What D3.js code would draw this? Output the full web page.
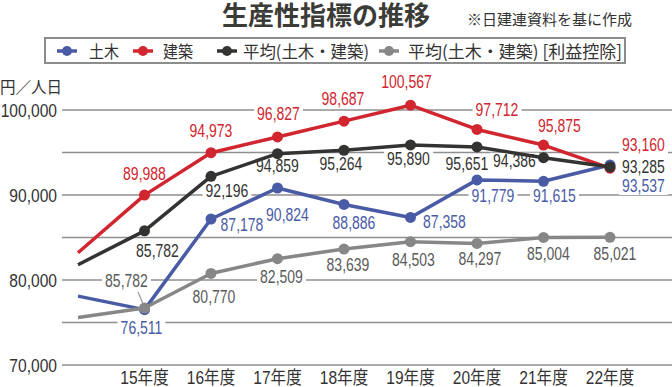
<!DOCTYPE html>
<html>
<head>
<meta charset="utf-8">
<script src="https://cdn.jsdelivr.net/npm/d3@7"></script>
<style>
  body { margin: 0; background: #fff; }
  svg { display: block; }
</style>
</head>
<body>
<div id="chart"></div>
<script>
// data (14年度 is only the start of each line)
var years = ["14年度", "15年度", "16年度", "17年度", "18年度", "19年度", "20年度", "21年度", "22年度"];
var yTicks = [70000, 80000, 90000, 100000];
var gridValues = [70000, 75000, 80000, 85000, 90000, 95000, 100000];

var doboku = [78100, 76511, 87178, 90824, 88886, 87358, 91779, 91615, 93537];
var kenchiku = [83200, 89988, 94973, 96827, 98687, 100567, 97712, 95875, 93160];
var heikin = [81800, 85782, 92196, 94859, 95264, 95890, 95651, 94386, 93285];
var heikinRieki = [75600, 76700, 80770, 82509, 83639, 84503, 84297, 85004, 85021];
// the printed label for 15年度 of the last series differs from where its point sits
var heikinRiekiLabels = ["", "85,782", "80,770", "82,509", "83,639", "84,503", "84,297", "85,004", "85,021"];

var seriesNames = ["土木", "建築", "平均(土木・建築)", "平均(土木・建築) [利益控除]"];

var fmt = d3.format(",");
function labelsOf(vals) { return vals.map(function(v, i) { return i == 0 ? "" : fmt(v); }); }

var series = [
  { name: seriesNames[0], values: doboku, labels: labelsOf(doboku), line: "#4a5ba6", text: "#4a5ba6",
    off: [null, [-3,24], [31,12], [10,33], [10,25], [34,11], [16,22], [11,21], [12,27,"start"]] },
  { name: seriesNames[1], values: kenchiku, labels: labelsOf(kenchiku), line: "#d1252f", text: "#d1252f",
    off: [null, [0,-15], [0,-16], [1,-17], [-1,-16], [-4,-17], [20,-13], [16,-13], [12,-17,"start"]] },
  { name: seriesNames[2], values: heikin, labels: labelsOf(heikin), line: "#333331", text: "#333331",
    off: [null, [13,26], [16,21], [0,18], [-3,20], [-2,20], [-10,23], [-29,9], [12,6,"start"]] },
  { name: seriesNames[3], values: heikinRieki, labels: heikinRiekiLabels, line: "#878787", text: "#5a5a5a",
    off: [null, [-18,-21], [3,30], [4,24], [4,22], [3,24], [3,22], [5,23], [5,23]] }
];

var width = 672, height = 387;
var numFont = "'Liberation Sans', Arial, 'Noto Sans CJK JP', sans-serif";
var jpFont = "'Noto Sans CJK JP', sans-serif";
var squeeze = 0.8;

// narrow the glyphs like the condensed face of the original
function condense(sel, k) {
  sel.each(function() {
    var w = this.getComputedTextLength();
    d3.select(this)
        .attr("textLength", w * k)
        .attr("lengthAdjust", "spacingAndGlyphs");
  });
}

var svg = d3.select("#chart").append("svg")
    .attr("width", width)
    .attr("height", height);

var x = d3.scalePoint().domain(years).range([78, 610]);
var y = d3.scaleLinear().domain([70000, 100000]).range([365, 110]);

// title + note
svg.append("text")
    .attr("x", 222).attr("y", 25)
    .attr("font-family", jpFont)
    .attr("font-weight", "bold")
    .attr("font-size", 26)
    .attr("fill", "#3b3b38")
    .attr("textLength", 208)
    .attr("lengthAdjust", "spacingAndGlyphs")
    .text("生産性指標の推移");
svg.append("text")
    .attr("x", 467).attr("y", 25)
    .attr("font-family", jpFont)
    .attr("font-size", 15)
    .attr("fill", "#333")
    .attr("textLength", 165)
    .attr("lengthAdjust", "spacingAndGlyphs")
    .text("※日建連資料を基に作成");

// legend
var lg = svg.append("g");
lg.append("rect")
    .attr("x", 45).attr("y", 38)
    .attr("width", 580).attr("height", 25)
    .attr("fill", "#fff")
    .attr("stroke", "#8c8c8c")
    .attr("stroke-width", 2);
var legendItems = [
  { s: series[0], mx: 67, tx: 89, tw: 30 },
  { s: series[1], mx: 143, tx: 163, tw: 30 },
  { s: series[2], mx: 227, tx: 243, tw: 126 },
  { s: series[3], mx: 389, tx: 408, tw: 214 }
];
legendItems.forEach(function(it) {
  lg.append("line")
      .attr("x1", it.mx - 10).attr("x2", it.mx + 10)
      .attr("y1", 51).attr("y2", 51)
      .attr("stroke", it.s.line).attr("stroke-width", 3.5);
  lg.append("circle")
      .attr("cx", it.mx).attr("cy", 51).attr("r", 5)
      .attr("fill", it.s.line);
  lg.append("text")
      .attr("x", it.tx).attr("y", 58)
      .attr("font-family", jpFont)
      .attr("font-size", 17)
      .attr("fill", "#333")
      .attr("textLength", it.tw)
      .attr("lengthAdjust", "spacingAndGlyphs")
      .text(it.s.name);
});

// unit
svg.append("text")
    .attr("x", 0).attr("y", 93)
    .attr("font-family", jpFont)
    .attr("font-size", 16)
    .attr("fill", "#333")
    .attr("textLength", 62)
    .attr("lengthAdjust", "spacingAndGlyphs")
    .text("円／人日");

// grid
svg.append("g").selectAll("line")
    .data(gridValues)
    .join("line")
    .attr("x1", 62).attr("x2", width)
    .attr("y1", function(d) { return y(d); })
    .attr("y2", function(d) { return y(d); })
    .attr("stroke", "#8f8f8f")
    .attr("stroke-width", 1.5);

// y axis labels
svg.append("g").selectAll("text")
    .data(yTicks)
    .join("text")
    .attr("x", 57)
    .attr("y", function(d) { return y(d) + 7; })
    .attr("text-anchor", "end")
    .attr("font-family", numFont)
    .attr("font-size", 19)
    .attr("fill", "#333")
    .text(function(d) { return fmt(d); })
    .call(condense, 0.82);

// x axis labels
svg.append("g").selectAll("text")
    .data(years.slice(1))
    .join("text")
    .attr("x", function(d) { return x(d); })
    .attr("y", 384)
    .attr("text-anchor", "middle")
    .attr("font-family", numFont)
    .attr("font-size", 18.5)
    .attr("fill", "#333")
    .text(function(d) { return d; })
    .call(condense, 0.84);

// data labels: place texts first to measure, then white boxes under them
var labelG = svg.append("g");
var bgG = svg.insert("g", function() { return labelG.node(); });
var linesG = svg.insert("g", function() { return labelG.node(); });

series.forEach(function(s) {
  s.values.forEach(function(v, i) {
    if (!s.labels[i]) return;
    var o = s.off[i];
    var t = labelG.append("text")
        .attr("x", x(years[i]) + o[0])
        .attr("y", y(v) + o[1])
        .attr("text-anchor", o[2] || "middle")
        .attr("font-family", numFont)
        .attr("font-size", 17.5)
        .attr("fill", s.text)
        .text(s.labels[i])
        .call(condense, squeeze);
    var b = t.node().getBBox();
    bgG.append("rect")
        .attr("x", b.x - 3).attr("y", b.y + 2)
        .attr("width", b.width + 6).attr("height", b.height - 3)
        .attr("fill", "#fff");
  });
});

// leader line for the grey 15年度 label
linesG.append("line")
    .attr("x1", 138).attr("y1", 292)
    .attr("x2", x(years[1]) - 1).attr("y2", y(heikinRieki[1]) - 3)
    .attr("stroke", "#999").attr("stroke-width", 1.2);

var line = d3.line()
    .x(function(d, i) { return x(years[i]); })
    .y(function(d) { return y(d); });

// blue first, grey last: black sits on top at 22年度, grey on top at 15年度
series.forEach(function(s) {
  linesG.append("path")
      .datum(s.values)
      .attr("fill", "none")
      .attr("stroke", s.line)
      .attr("stroke-width", 3.5)
      .attr("stroke-linejoin", "round")
      .attr("d", line);
  linesG.append("g").selectAll("circle")
      .data(s.values.slice(1))
      .join("circle")
      .attr("cx", function(d, i) { return x(years[i + 1]); })
      .attr("cy", function(d) { return y(d); })
      .attr("r", 5.5)
      .attr("fill", s.line);
});
</script>
</body>
</html>
